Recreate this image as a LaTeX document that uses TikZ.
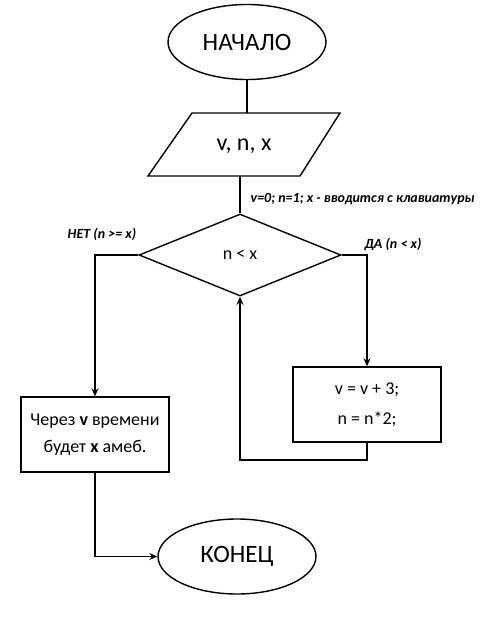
\documentclass[tikz,border=0pt]{standalone}
\usepackage{fontspec}
\setmainfont{Carlito}
\usetikzlibrary{shapes.geometric,arrows.meta}
\begin{document}
\begin{tikzpicture}[x=1pt,y=-1pt,
  line width=1.4pt,
  term/.style={draw,ellipse,inner sep=0pt,minimum width=158pt,minimum height=75pt,font=\fontsize{25}{28}\selectfont},
  cond/.style={draw,diamond,inner sep=0pt,minimum width=202pt,minimum height=82pt,font=\fontsize{18}{20}\selectfont},
  procbox/.style={draw,rectangle,inner sep=0pt,minimum width=148pt,minimum height=75pt,align=center,font=\fontsize{18}{30}\selectfont},
  lbl/.style={font=\bfseries\itshape\fontsize{14}{16}\selectfont,inner sep=0pt},
  arr/.style={-{Stealth[length=8pt,width=7pt]}}]
\useasboundingbox (0,0) rectangle (500,621);
\node[term] (start) at (247,42) {НАЧАЛО};
% input parallelogram
\coordinate (p1) at (148,176);
\coordinate (p2) at (192,113);
\coordinate (p3) at (340,113);
\coordinate (p4) at (300,176);
\draw (p1) -- (p2) -- (p3) -- (p4) -- cycle;
\node[font=\fontsize{24}{28}\selectfont] (io) at (244,146) {v, n, x};
\node[cond] (dec) at (240,255) {n < x};
\node[procbox] (body) at (367,404.5) {v = v + 3;\\ n = n*2;};
\node[procbox,font=\fontsize{18}{27}\selectfont] (out) at (95,434.5) {Через \textbf{v} времени\\ будет \textbf{x} амеб.};
\node[term] (stop) at (237,556.5) {КОНЕЦ};
\coordinate (iotop) at (247,113);
\coordinate (iobot) at (240,176);
\coordinate (lcorner) at (95,255);
\coordinate (rcorner) at (367,255);
\coordinate (loopr) at (367,460);
\coordinate (loopl) at (240,460);
\coordinate (endc) at (95,556.5);
\draw (start.south) -- (iotop);
\draw (iobot) -- (dec.north);
\draw[arr] (dec.west) -- (lcorner) -- (out.north);
\draw[arr] (dec.east) -- (rcorner) -- (body.north);
\draw[arr] (body.south) -- (loopr) -- (loopl) -- (dec.south);
\draw[arr] (out.south) -- (endc) -- (stop.west);
\node[lbl,anchor=west] (lab1) at (250,199) {v=0; n=1; x - вводится с клавиатуры};
\node[lbl] (lab2) at (102,234) {НЕТ (n >= x)};
\node[lbl] (lab3) at (393,244) {ДА (n < x)};
\end{tikzpicture}
\end{document}
